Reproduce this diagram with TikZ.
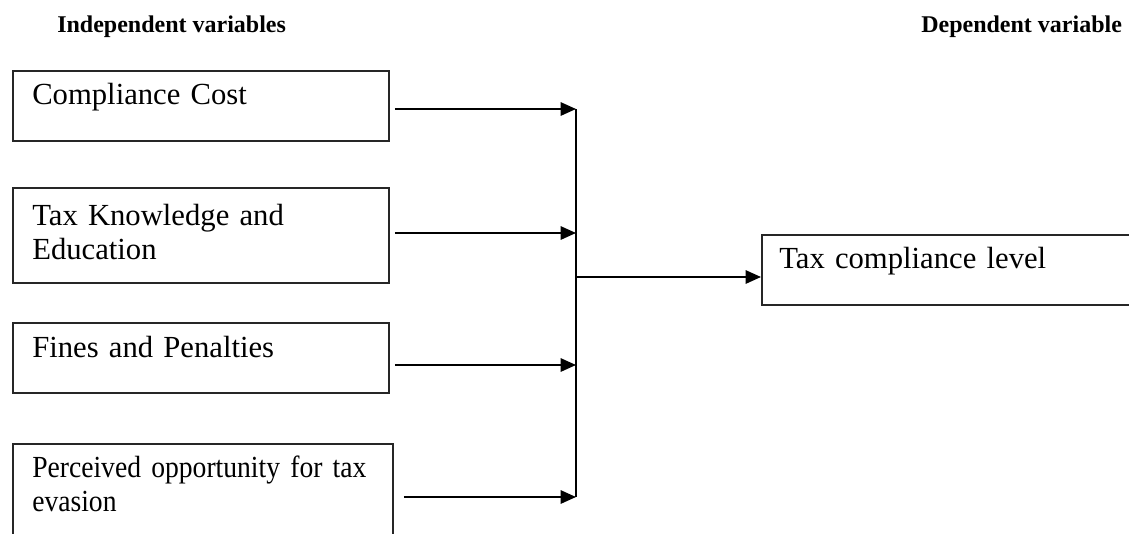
\documentclass[tikz,border=0pt]{standalone}
\usepackage{fontspec}
\setmainfont{Liberation Serif}
\newfontfamily\narrowserif[FakeStretch=0.9]{Liberation Serif}
\usetikzlibrary{arrows.meta,calc}
\tikzset{
	varbox/.style={draw=black!85, line width=1.4pt, anchor=north west, inner sep=0pt, minimum width=282pt, minimum height=52.5pt},
	vartext/.style={anchor=base west, inner sep=0pt, text width=280pt, align=left, font=\fontsize{23}{26}\selectfont},
	heading/.style={anchor=base west, inner sep=0pt, font=\fontsize{18}{21}\selectfont\bfseries},
	flow/.style={line width=1.4pt, -{Triangle[length=11.5pt,width=10pt]}},
	bus/.style={line width=1.4pt}
}
\begin{document}
\begin{tikzpicture}[x=0.75pt,y=-0.75pt]
	\useasboundingbox (0,0) rectangle (1129,533);
	\clip (0,0) rectangle (1129,533);

	\node[heading] (indep) at (57,32) {Independent variables};
	\node[heading] (dep) at (921,32) {Dependent variable};

	\node[varbox] (cc) at (12,70) {};
	\node[varbox, minimum height=71.25pt] (tk) at (12,187) {};
	\node[varbox] (fp) at (12,322) {};
	\node[varbox, minimum width=285pt, minimum height=90pt] (po) at (12,443) {};
	\node[varbox, minimum width=300pt] (tcl) at (761,234) {};

	\node[vartext] (cctext) at ([shift={(20,34)}]cc.north west) {Compliance Cost};
	\node[vartext] (tktext) at ([shift={(20,38)}]tk.north west) {Tax Knowledge and\\Education};
	\node[vartext] (fptext) at ([shift={(20,35)}]fp.north west) {Fines and Penalties};
	\node[vartext, font=\narrowserif\fontsize{23}{26}\selectfont] (potext) at ([shift={(20,34)}]po.north west) {Perceived opportunity for tax\\evasion};
	\node[vartext] (tcltext) at ([shift={(18,34)}]tcl.north west) {Tax compliance level};

	% junction points on the bus
	\coordinate (j1) at (576,109);
	\coordinate (j2) at (576,233);
	\coordinate (j3) at (576,365);
	\coordinate (j4) at (576,497);
	\coordinate (jo) at (576,277);

	\draw[bus] (j1) -- (j4);
	\draw[flow,shorten <=3.75pt] (cc.east |- j1) -- (j1);
	\draw[flow,shorten <=3.75pt] (tk.east |- j2) -- (j2);
	\draw[flow,shorten <=3.75pt] (fp.east |- j3) -- (j3);
	\draw[flow,shorten <=7.5pt] (po.east |- j4) -- (j4);
	\draw[flow] (jo) -- (tcl.west |- jo);
\end{tikzpicture}
\end{document}
